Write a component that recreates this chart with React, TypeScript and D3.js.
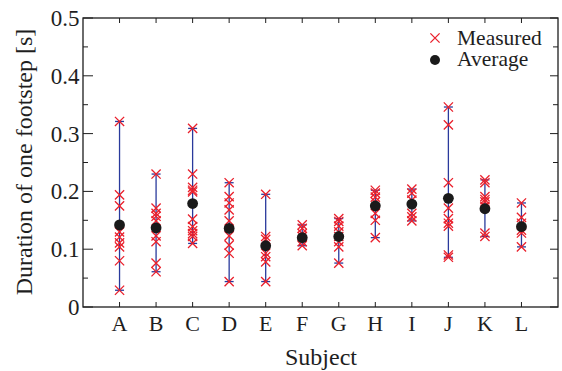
import React from "react";
import * as d3 from "d3";

const subjects = ["A", "B", "C", "D", "E", "F", "G", "H", "I", "J", "K", "L"];

const measuredA = [0.321, 0.194, 0.175, 0.130, 0.121, 0.111, 0.104, 0.080, 0.029];
const measuredB = [0.230, 0.171, 0.162, 0.157, 0.149, 0.123, 0.113, 0.076, 0.061];
const measuredC = [0.309, 0.230, 0.207, 0.202, 0.199, 0.152, 0.139, 0.132, 0.127, 0.122, 0.110];
const measuredD = [0.215, 0.191, 0.180, 0.168, 0.149, 0.123, 0.107, 0.093, 0.044];
const measuredE = [0.195, 0.122, 0.117, 0.093, 0.087, 0.078, 0.044];
const measuredF = [0.142, 0.136, 0.127, 0.122, 0.113, 0.106];
const measuredG = [0.153, 0.148, 0.140, 0.130, 0.122, 0.113, 0.104, 0.076];
const measuredH = [0.202, 0.197, 0.190, 0.182, 0.162, 0.150, 0.120];
const measuredI = [0.204, 0.197, 0.185, 0.162, 0.156, 0.149];
const measuredJ = [0.346, 0.315, 0.215, 0.171, 0.153, 0.145, 0.140, 0.090, 0.086];
const measuredK = [0.220, 0.215, 0.191, 0.186, 0.182, 0.174, 0.128, 0.122];
const measuredL = [0.180, 0.155, 0.145, 0.133, 0.128, 0.104];

const measured = [measuredA, measuredB, measuredC, measuredD, measuredE, measuredF,
  measuredG, measuredH, measuredI, measuredJ, measuredK, measuredL];

const averages = [0.142, 0.137, 0.179, 0.136, 0.106, 0.120, 0.122, 0.175, 0.178, 0.188, 0.170, 0.139];

const yTicks = [0, 0.1, 0.2, 0.3, 0.4, 0.5];
const yMinor = [0.05, 0.15, 0.25, 0.35, 0.45];

const W = 562, H = 371;
const left = 83, right = 558, top = 18, bottom = 307;

export default function App() {
  const x = d3.scaleLinear().domain([0, 13]).range([left, right]);
  const y = d3.scaleLinear().domain([0, 0.5]).range([bottom, top]);
  const font = "Liberation Serif, Times New Roman, Times, DejaVu Serif, serif";
  const red = "#ea1f2b";
  const blue = "#2a3a9c";
  const ink = "#1e1e1e";
  const xs = 4.6;
  const cross = (cx: number, cy: number, key: string) => (
    <path key={key} d={`M${cx - xs},${cy - xs}L${cx + xs},${cy + xs}M${cx - xs},${cy + xs}L${cx + xs},${cy - xs}`}
      stroke={red} strokeWidth={1.3} fill="none" />
  );
  return (
    <svg width={W} height={H} style={{ position: "absolute", left: 0, top: 0, background: "#fff", fontFamily: font }}>
      {/* y ticks */}
      {yTicks.map((t) => (
        <g key={"yt" + t}>
          <line x1={left} x2={left + 10} y1={y(t)} y2={y(t)} stroke={ink} strokeWidth={1} />
          <line x1={right} x2={right - 8} y1={y(t)} y2={y(t)} stroke={ink} strokeWidth={1} />
          <text x={79.5} y={y(t)} dy="0.35em" textAnchor="end" fontSize={23} fill={ink}>{t === 0 ? "0" : t.toFixed(1)}</text>
        </g>
      ))}
      {yMinor.map((t) => (
        <g key={"ym" + t}>
          <line x1={left} x2={left + 5} y1={y(t)} y2={y(t)} stroke={ink} strokeWidth={1} />
          <line x1={right} x2={right - 5} y1={y(t)} y2={y(t)} stroke={ink} strokeWidth={1} />
        </g>
      ))}
      {/* x ticks */}
      {subjects.map((s, i) => (
        <g key={"xt" + s}>
          <line x1={x(i + 1)} x2={x(i + 1)} y1={bottom} y2={bottom - 5} stroke={ink} strokeWidth={1} />
          <line x1={x(i + 1)} x2={x(i + 1)} y1={top} y2={top + 5} stroke={ink} strokeWidth={1} />
          <text x={x(i + 1)} y={331} textAnchor="middle" fontSize={22} fill={ink}>{s}</text>
        </g>
      ))}
      {/* range bars */}
      {measured.map((vals, i) => {
        const cx = x(i + 1);
        const mx = d3.max(vals) as number;
        const mn = d3.min(vals) as number;
        return (
          <g key={"bar" + i}>
            <line x1={cx} x2={cx} y1={y(mx)} y2={y(mn)} stroke={blue} strokeWidth={1.3} />
            <line x1={cx - 4.5} x2={cx + 4.5} y1={y(mx)} y2={y(mx)} stroke={blue} strokeWidth={1.3} />
            <line x1={cx - 4.5} x2={cx + 4.5} y1={y(mn)} y2={y(mn)} stroke={blue} strokeWidth={1.3} />
          </g>
        );
      })}
      {measured.map((vals, i) => vals.map((v, j) => cross(x(i + 1), y(v), `m${i}-${j}`)))}
      {averages.map((v, i) => (
        <circle key={"avg" + i} cx={x(i + 1)} cy={y(v)} r={5.4} fill="#1a1a1a" />
      ))}
      {/* frame */}
      <rect x={left} y={top} width={right - left} height={bottom - top} fill="none" stroke={ink} strokeWidth={1.3} />
      {/* legend */}
      {cross(435, 38, "leg")}
      <text x={457} y={45} fontSize={21.5} fill={ink}>Measured</text>
      <circle cx={435} cy={60} r={5} fill="#1a1a1a" />
      <text x={457} y={65.5} fontSize={21.5} fill={ink}>Average</text>
      {/* axis labels */}
      <text x={321} y={365} textAnchor="middle" fontSize={24} fill={ink}>Subject</text>
      <text transform={`translate(32,162) rotate(-90)`} textAnchor="middle" fontSize={24} fill={ink}>Duration of one footstep [s]</text>
    </svg>
  );
}
